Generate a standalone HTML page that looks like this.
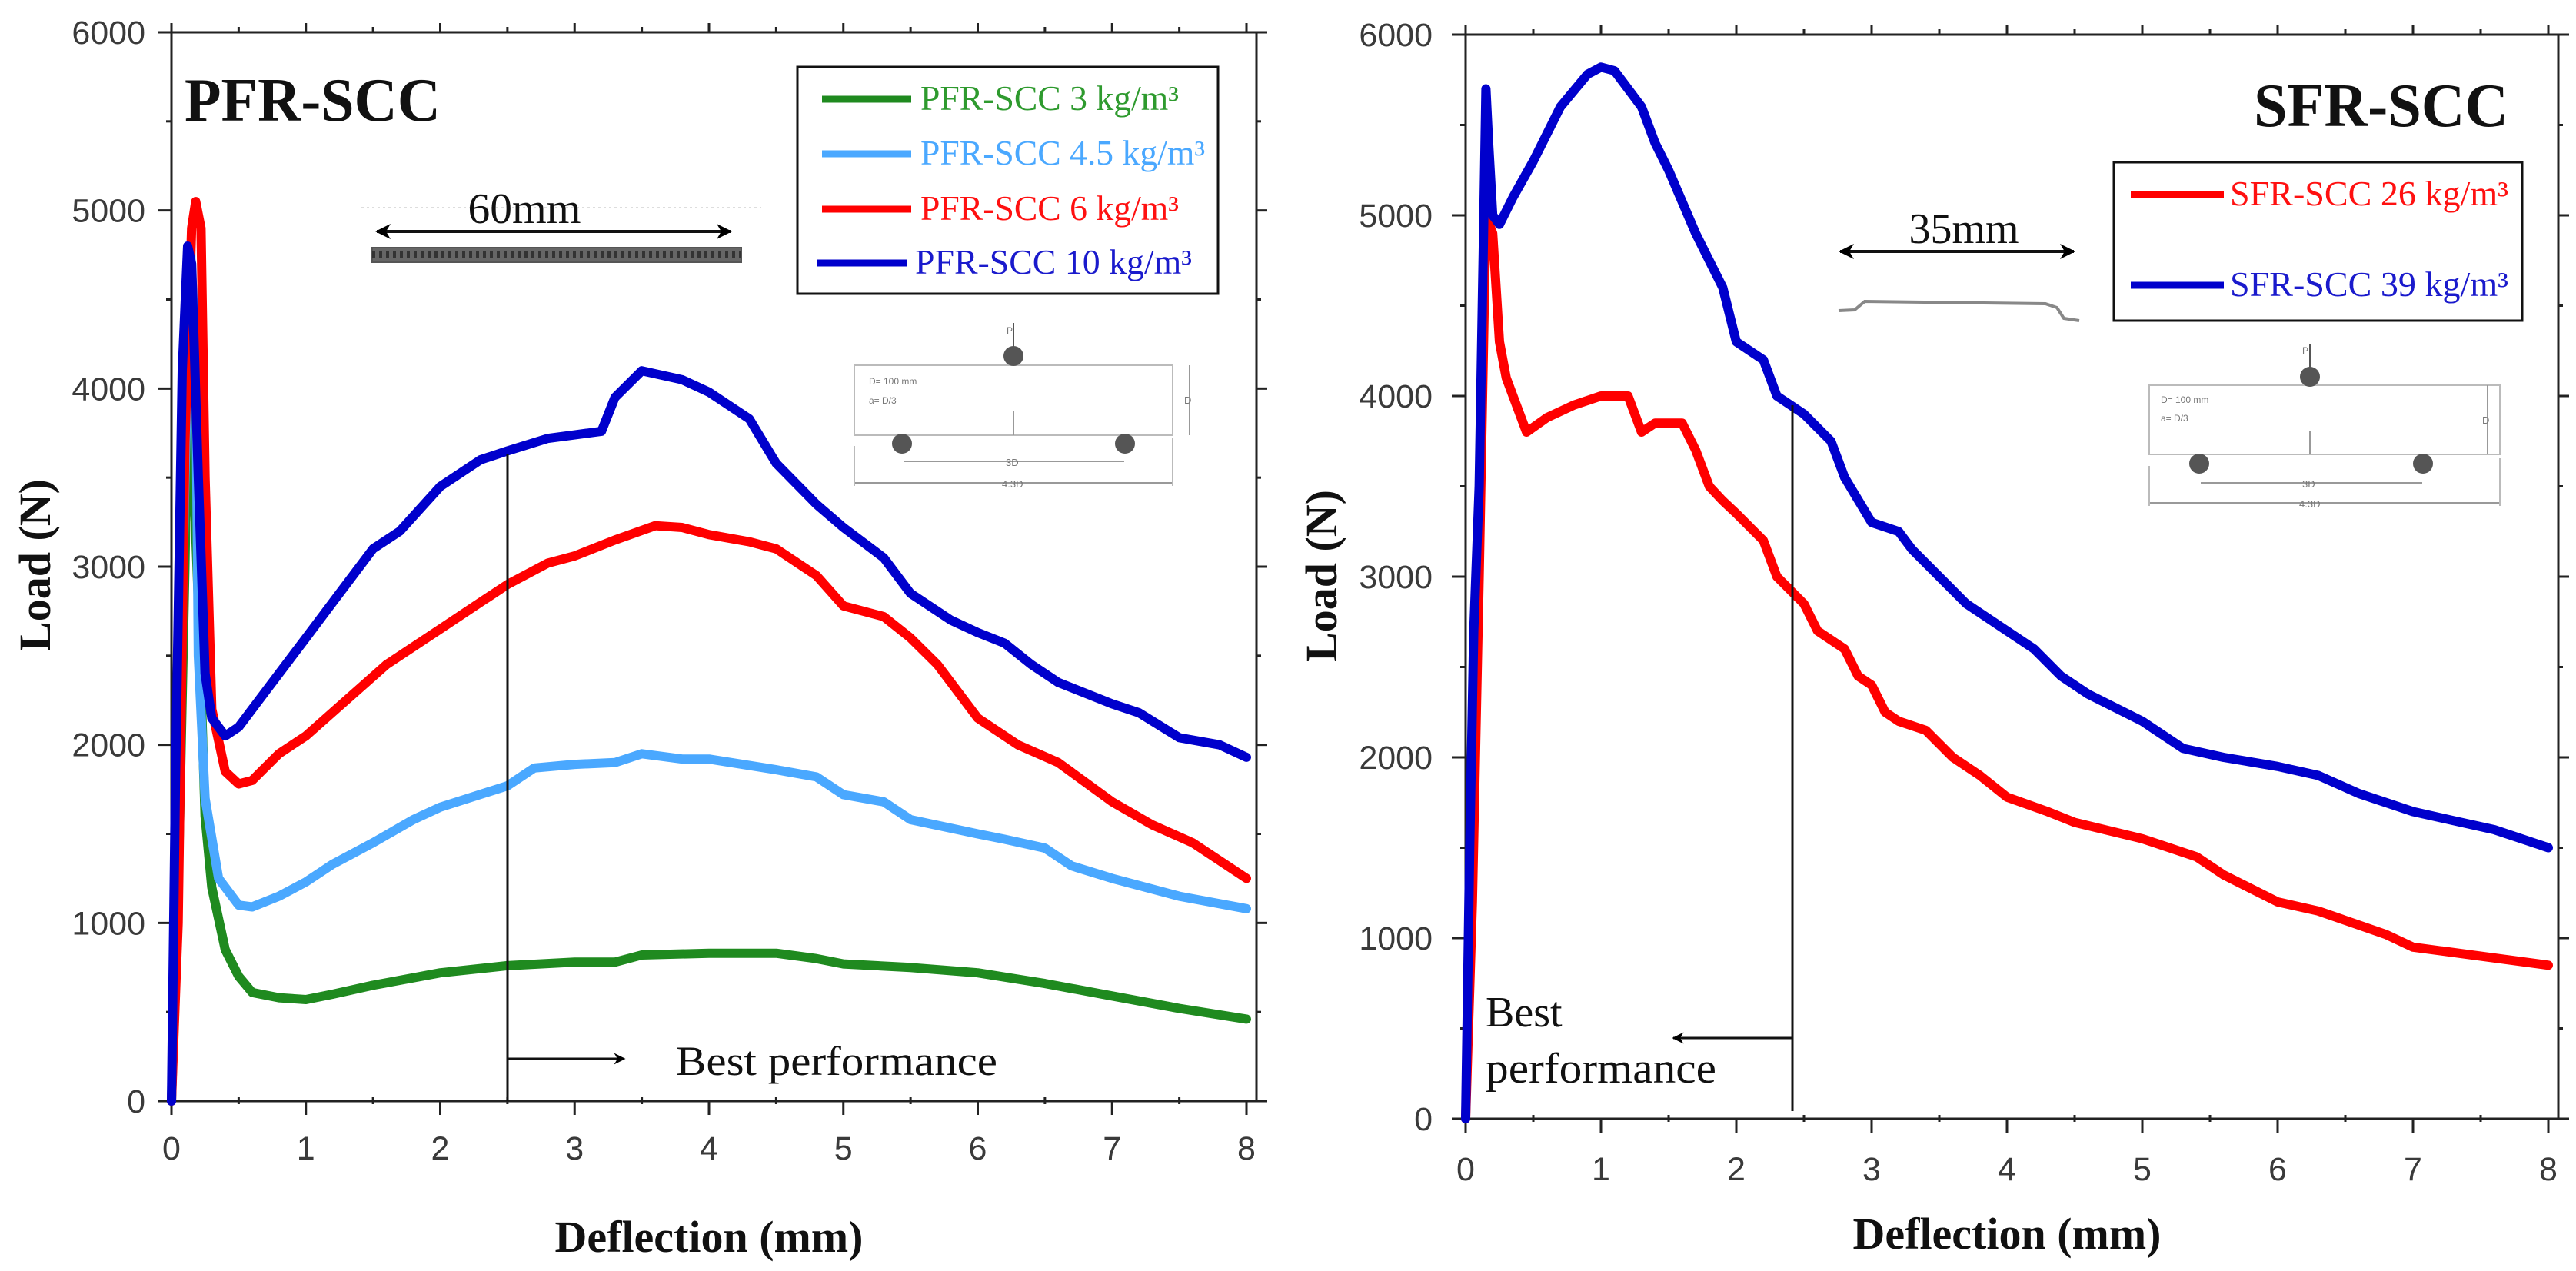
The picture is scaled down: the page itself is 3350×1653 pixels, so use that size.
<!DOCTYPE html>
<html><head><meta charset="utf-8"><style>
html,body{margin:0;padding:0;background:#fff;}
svg{display:block;}
.tick{font-family:"Liberation Sans",sans-serif;font-size:43px;fill:#3a3a3a;}
.ttl{font-family:"Liberation Serif",serif;font-weight:bold;fill:#111;}
.ser{font-family:"Liberation Serif",serif;}
</style></head><body>
<svg id="fig" width="3350" height="1653" viewBox="0 0 3350 1653" xmlns="http://www.w3.org/2000/svg">
<defs>
<marker id="ah" viewBox="0 0 10 10" refX="9" refY="5" markerWidth="5" markerHeight="5" orient="auto-start-reverse"><path d="M0,0 L10,5 L0,10 L3,5 z" fill="#000"/></marker>
</defs>
<g id="left"></g>
<g id="right"></g>

<text class="ttl" x="240" y="157" font-size="80" textLength="333" lengthAdjust="spacingAndGlyphs">PFR-SCC</text>
<g>
<line x1="470" y1="270" x2="990" y2="270" stroke="#ddd" stroke-width="2" stroke-dasharray="3 4"/>
<line x1="490" y1="301" x2="950" y2="301" stroke="#111" stroke-width="4" marker-start="url(#ah)" marker-end="url(#ah)"/>
<text class="ser" x="682" y="290" font-size="56" text-anchor="middle" textLength="147" lengthAdjust="spacingAndGlyphs" fill="#111">60mm</text>
<rect x="484" y="322" width="480" height="19" fill="#666" stroke="#555" stroke-width="2"/>
<line x1="484" y1="331" x2="964" y2="331" stroke="#333" stroke-width="8" stroke-dasharray="4 5"/>
</g>
<g>
<rect x="1037" y="87" width="547" height="295" fill="#fff" stroke="#111" stroke-width="3"/>
<line x1="1069" y1="129" x2="1185" y2="129" stroke="#1f8a1f" stroke-width="9"/>
<text class="ser" x="1197" y="143" font-size="46" fill="#2e9a2e" textLength="336" lengthAdjust="spacingAndGlyphs">PFR-SCC 3 kg/m³</text>
<line x1="1069" y1="200" x2="1185" y2="200" stroke="#4aa8ff" stroke-width="9"/>
<text class="ser" x="1197" y="214" font-size="46" fill="#4aa8ff" textLength="370" lengthAdjust="spacingAndGlyphs">PFR-SCC 4.5 kg/m³</text>
<line x1="1069" y1="272" x2="1185" y2="272" stroke="#ff0000" stroke-width="9"/>
<text class="ser" x="1197" y="286" font-size="46" fill="#ff1010" textLength="336" lengthAdjust="spacingAndGlyphs">PFR-SCC 6 kg/m³</text>
<line x1="1062" y1="342" x2="1180" y2="342" stroke="#0000cc" stroke-width="9"/>
<text class="ser" x="1190" y="356" font-size="46" fill="#1a1acc" textLength="360" lengthAdjust="spacingAndGlyphs">PFR-SCC 10 kg/m³</text>
</g>
<g font-family="Liberation Sans,sans-serif" fill="#777">
<rect x="1111" y="475" width="414" height="91" fill="none" stroke="#bbb" stroke-width="2"/>
<line x1="1318" y1="420" x2="1318" y2="452" stroke="#555" stroke-width="2"/>
<circle cx="1318" cy="463" r="13" fill="#555"/>
<line x1="1318" y1="535" x2="1318" y2="566" stroke="#999" stroke-width="2"/>
<circle cx="1173" cy="577" r="13" fill="#555"/>
<circle cx="1463" cy="577" r="13" fill="#555"/>
<line x1="1175" y1="600" x2="1462" y2="600" stroke="#999" stroke-width="2"/>
<line x1="1111" y1="628" x2="1525" y2="628" stroke="#999" stroke-width="2"/>
<line x1="1111" y1="580" x2="1111" y2="632" stroke="#bbb" stroke-width="2"/>
<line x1="1525" y1="570" x2="1525" y2="632" stroke="#bbb" stroke-width="2"/>
<line x1="1547" y1="475" x2="1547" y2="566" stroke="#999" stroke-width="2"/>
<text x="1130" y="500" font-size="12">D= 100 mm</text><text x="1130" y="525" font-size="12">a= D/3</text>
<text x="1309" y="434" font-size="12">P</text><text x="1540" y="525" font-size="13">D</text>
<text x="1308" y="606" font-size="13">3D</text><text x="1303" y="634" font-size="13">4.3D</text>
</g>
<g>
<line x1="660" y1="591" x2="660" y2="1432" stroke="#111" stroke-width="3"/>
<line x1="660" y1="1377" x2="812" y2="1377" stroke="#111" stroke-width="3" marker-end="url(#ah)"/>
<text class="ser" x="879" y="1398" font-size="54" fill="#111" textLength="418" lengthAdjust="spacingAndGlyphs">Best performance</text>
</g>

<text class="ttl" x="2931" y="164" font-size="80" textLength="331" lengthAdjust="spacingAndGlyphs">SFR-SCC</text>
<g>
<line x1="2393" y1="327" x2="2697" y2="327" stroke="#111" stroke-width="4" marker-start="url(#ah)" marker-end="url(#ah)"/>
<text class="ser" x="2554" y="316" font-size="56" text-anchor="middle" fill="#111">35mm</text>
<path d="M2391,404 L2412,403 L2425,392 L2660,395 L2675,400 L2684,414 L2704,417" fill="none" stroke="#888" stroke-width="4"/>
</g>
<g>
<rect x="2749" y="211" width="531" height="206" fill="#fff" stroke="#111" stroke-width="3"/>
<line x1="2771" y1="253" x2="2892" y2="253" stroke="#ff0000" stroke-width="9"/>
<text class="ser" x="2900" y="267" font-size="46" fill="#ff1010" textLength="362" lengthAdjust="spacingAndGlyphs">SFR-SCC 26 kg/m³</text>
<line x1="2771" y1="371" x2="2892" y2="371" stroke="#0000cc" stroke-width="9"/>
<text class="ser" x="2900" y="385" font-size="46" fill="#1a1acc" textLength="362" lengthAdjust="spacingAndGlyphs">SFR-SCC 39 kg/m³</text>
</g>
<g font-family="Liberation Sans,sans-serif" fill="#777">
<rect x="2795" y="501" width="456" height="90" fill="none" stroke="#bbb" stroke-width="2"/>
<line x1="3004" y1="448" x2="3004" y2="480" stroke="#555" stroke-width="2"/>
<circle cx="3004" cy="490" r="13" fill="#555"/>
<line x1="3004" y1="560" x2="3004" y2="591" stroke="#999" stroke-width="2"/>
<circle cx="2860" cy="603" r="13" fill="#555"/>
<circle cx="3151" cy="603" r="13" fill="#555"/>
<line x1="2862" y1="628" x2="3150" y2="628" stroke="#999" stroke-width="2"/>
<line x1="2795" y1="654" x2="3251" y2="654" stroke="#999" stroke-width="2"/>
<line x1="2795" y1="606" x2="2795" y2="658" stroke="#bbb" stroke-width="2"/>
<line x1="3251" y1="596" x2="3251" y2="658" stroke="#bbb" stroke-width="2"/>
<line x1="3235" y1="501" x2="3235" y2="591" stroke="#999" stroke-width="2"/>
<text x="2810" y="524" font-size="12">D= 100 mm</text><text x="2810" y="548" font-size="12">a= D/3</text>
<text x="2994" y="460" font-size="12">P</text><text x="3228" y="551" font-size="13">D</text>
<text x="2994" y="634" font-size="13">3D</text><text x="2990" y="660" font-size="13">4.3D</text>
</g>
<g>
<line x1="2331" y1="527" x2="2331" y2="1445" stroke="#111" stroke-width="3"/>
<line x1="2331" y1="1350" x2="2176" y2="1350" stroke="#111" stroke-width="3" marker-end="url(#ah)"/>
<text class="ser" x="1932" y="1335" font-size="56" fill="#111">Best</text>
<text class="ser" x="1932" y="1408" font-size="56" fill="#111" textLength="300" lengthAdjust="spacingAndGlyphs">performance</text>
</g>
</svg>
<script>
const xTicks = [0,1,2,3,4,5,6,7,8];
const yTicks = [0,1000,2000,3000,4000,5000,6000];
const pfr3x = [0,0.05,0.1,0.13,0.17,0.2,0.25,0.3,0.4,0.5,0.6,0.8,1,1.2,1.5,2,2.5,3,3.3,3.5,4,4.5,4.8,5,5.5,6,6.5,7,7.5,8];
const pfr3y = [0,1200,3000,4300,3400,2800,1600,1200,850,700,610,580,570,600,650,720,760,780,780,820,830,830,800,770,750,720,660,590,520,460];
const pfr45x = [0,0.05,0.1,0.14,0.18,0.2,0.25,0.35,0.5,0.6,0.8,1,1.2,1.5,1.8,2,2.5,2.7,3,3.3,3.5,3.8,4,4.5,4.8,5,5.3,5.5,6,6.2,6.5,6.7,7,7.5,8];
const pfr45y = [0,1500,3500,4800,4200,2500,1700,1250,1100,1090,1150,1230,1330,1450,1580,1650,1770,1870,1890,1900,1950,1920,1920,1860,1820,1720,1680,1580,1500,1470,1420,1320,1250,1150,1080];
const pfr6x = [0,0.05,0.1,0.15,0.18,0.22,0.25,0.3,0.4,0.5,0.6,0.8,1,1.3,1.6,2,2.3,2.5,2.8,3,3.3,3.6,3.8,4,4.3,4.5,4.8,5,5.3,5.5,5.7,6,6.3,6.6,7,7.3,7.6,8];
const pfr6y = [0,1000,3700,4900,5050,4900,3500,2200,1850,1780,1800,1950,2050,2250,2450,2650,2800,2900,3020,3060,3150,3230,3220,3180,3140,3100,2950,2780,2720,2600,2450,2150,2000,1900,1680,1550,1450,1250];
const pfr10x = [0,0.03,0.08,0.12,0.15,0.2,0.25,0.3,0.4,0.5,0.7,1,1.2,1.5,1.7,2,2.3,2.5,2.8,3,3.2,3.3,3.5,3.8,4,4.3,4.5,4.8,5,5.3,5.5,5.8,6,6.2,6.4,6.6,7,7.2,7.5,7.8,8];
const pfr10y = [0,1800,4100,4800,4700,3500,2400,2150,2050,2100,2300,2600,2800,3100,3200,3450,3600,3650,3720,3740,3760,3950,4100,4050,3980,3830,3580,3350,3220,3050,2850,2700,2630,2570,2450,2350,2230,2180,2040,2000,1930];
const sfr26x = [0,0.05,0.1,0.15,0.2,0.25,0.3,0.45,0.6,0.8,1,1.2,1.3,1.4,1.6,1.7,1.8,1.9,2,2.2,2.3,2.5,2.6,2.8,2.9,3,3.1,3.2,3.4,3.6,3.8,4,4.3,4.5,5,5.4,5.6,6,6.3,6.8,7,8];
const sfr26y = [0,1200,3000,5000,4900,4300,4100,3800,3880,3950,4000,4000,3800,3850,3850,3700,3500,3420,3350,3200,3000,2850,2700,2600,2450,2400,2250,2200,2150,2000,1900,1780,1700,1640,1550,1450,1350,1200,1150,1020,950,850];
const sfr39x = [0,0.03,0.06,0.1,0.13,0.15,0.17,0.2,0.25,0.35,0.5,0.7,0.9,1,1.1,1.2,1.3,1.4,1.5,1.7,1.8,1.9,2,2.2,2.3,2.5,2.7,2.8,3,3.2,3.3,3.5,3.7,4,4.2,4.4,4.6,5,5.3,5.6,6,6.3,6.6,7,7.3,7.6,8];
const sfr39y = [0,1500,2700,3500,4800,5700,5400,5000,4950,5100,5300,5600,5780,5820,5800,5700,5600,5400,5250,4900,4750,4600,4300,4200,4000,3900,3750,3550,3300,3250,3150,3000,2850,2700,2600,2450,2350,2200,2050,2000,1950,1900,1800,1700,1650,1600,1500];

const NS='http://www.w3.org/2000/svg';
function mk(tag, attrs, parent){const e=document.createElementNS(NS,tag);for(const k in attrs)e.setAttribute(k,attrs[k]);parent.appendChild(e);return e;}

function chart(g, x0, x1, y0, y1, series, tickY, labX, labY, lblX){
  const sx=v=>x0+(x1-x0)*v/8, sy=v=>y0-(y0-y1)*v/6000;
  const fr=mk('rect',{x:x0,y:y1,width:(x1-x0)+13,height:y0-y1,fill:'none',stroke:'#222','stroke-width':3},g);
  
  
  for(let i=0;i<=16;i++){const v=i/2;const X=sx(v);
    const L=(i%2===0)?18:9;
    mk('line',{x1:X,y1:y0,x2:X,y2:y0+(i%2===0?L:4),stroke:'#222','stroke-width':3},g);
    mk('line',{x1:X,y1:y0,x2:X,y2:y0-(i%2===0?0:5),stroke:'#222','stroke-width':3},g);
    mk('line',{x1:X,y1:y1,x2:X,y2:y1-(i%2===0?12:7),stroke:'#222','stroke-width':3},g);
  }
  for(let i=0;i<=12;i++){const v=i*500;const Y=sy(v);
    mk('line',{x1:x0,y1:Y,x2:x0-(i%2===0?18:7),y2:Y,stroke:'#222','stroke-width':3},g);
    mk('line',{x1:x1+13,y1:Y,x2:x1+13+(i%2===0?14:6),y2:Y,stroke:'#222','stroke-width':3},g);
  }
  xTicks.forEach(v=>{const t=mk('text',{x:sx(v),y:labX,'text-anchor':'middle',class:'tick'},g);t.textContent=String(v);
    
    });
  yTicks.forEach(v=>{const t=mk('text',{x:tickY,y:sy(v)+15,'text-anchor':'end',class:'tick'},g);t.textContent=String(v);
    
    });
  series.forEach(s=>{
    const pts=s.x.map((v,i)=>sx(v).toFixed(1)+','+sy(s.y[i]).toFixed(1)).join(' ');
    const p=mk('polyline',{points:pts,fill:'none',stroke:s.c,'stroke-width':12,'stroke-linejoin':'round','stroke-linecap':'round'},g);
    
    
  });
  const xt=mk('text',{x:(x0+x1)/2,y:labY,'text-anchor':'middle',class:'ttl','font-size':58},g);
  xt.textContent='Deflection (mm)';
  
  
  const yt=mk('text',{x:0,y:0,'text-anchor':'middle',class:'ttl','font-size':58,transform:`translate(${lblX[0]+20},${lblX[1]}) rotate(-90)`},g);
  yt.textContent='Load (N)';
  
  
}
chart(document.getElementById('left'),223,1621,1432,42,[
  {x:pfr3x,y:pfr3y,c:'#1f8a1f',n:'series-pfr-3'},
  {x:pfr45x,y:pfr45y,c:'#4aa8ff',n:'series-pfr-4-5'},
  {x:pfr6x,y:pfr6y,c:'#ff0000',n:'series-pfr-6'},
  {x:pfr10x,y:pfr10y,c:'#0000cc',n:'series-pfr-10'}],189,1508,1628,[45,735]);
chart(document.getElementById('right'),1906,3314,1455,45,[
  {x:sfr26x,y:sfr26y,c:'#ff0000',n:'series-sfr-26'},
  {x:sfr39x,y:sfr39y,c:'#0000cc',n:'series-sfr-39'}],1863,1535,1624,[1718,749]);
</script>
</body></html>
